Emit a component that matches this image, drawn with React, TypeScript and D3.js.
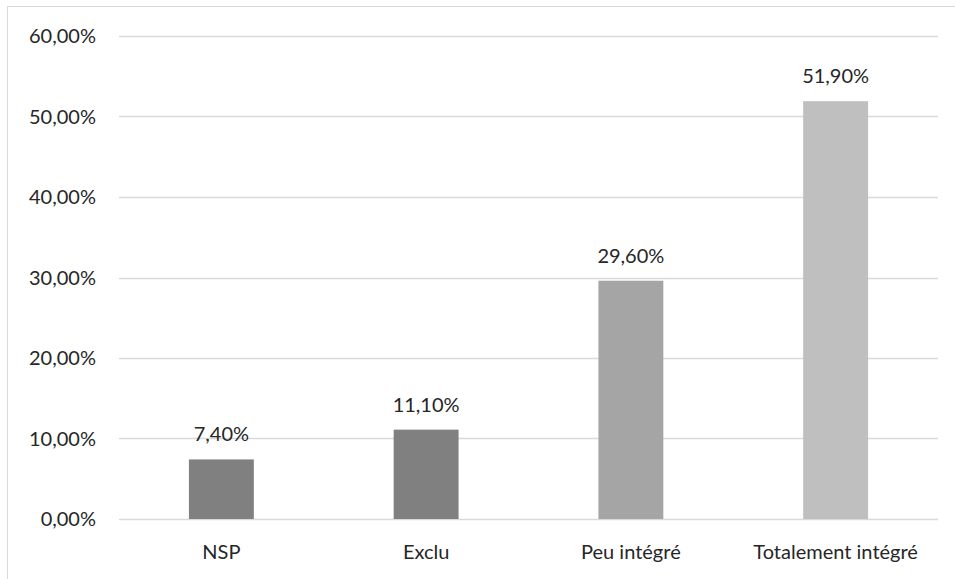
import React from 'react'
import * as d3 from 'd3'

const categories = ['NSP', 'Exclu', 'Peu intégré', 'Totalement intégré']
const values = [0.074, 0.111, 0.296, 0.519]
const barColors = ['#808080', '#808080', '#a5a5a5', '#bfbfbf']
const yTicks = [0, 0.1, 0.2, 0.3, 0.4, 0.5, 0.6]

const W = 955
const H = 579
const margin = { top: 36, right: 17, bottom: 60, left: 119 }

const fmt = (v: number) => (v * 100).toFixed(2).replace('.', ',') + '%'

export default function App() {
  const x = d3
    .scaleBand<string>()
    .domain(categories)
    .range([margin.left, W - margin.right])
    .paddingInner(0.683)
    .paddingOuter(0.3415)
  const y = d3.scaleLinear().domain([0, 0.6]).range([H - margin.bottom, margin.top])

  const font = 'Lato, "Open Sans", sans-serif'
  const fs = 20
  return (
    <svg
      width={W}
      height={H}
      style={{ position: 'absolute', left: 0, top: 0, background: '#fff' }}
      fontFamily={font}
    >
      {/* chart frame */}
      <rect x={7.5} y={6.5} width={W + 10} height={H + 10} fill="none" stroke="#d9d9d9" strokeWidth={1} />

      {yTicks.map((t) => (
        <g key={t}>
          <line
            x1={margin.left}
            x2={W - margin.right}
            y1={Math.round(y(t)) + 0.5}
            y2={Math.round(y(t)) + 0.5}
            stroke="#d9d9d9"
            strokeWidth={1.3}
          />
          <text x={96} y={y(t)} dy="0.35em" textAnchor="end" fontSize={fs} fill="#262626">
            {fmt(t)}
          </text>
        </g>
      ))}

      {categories.map((c, i) => (
        <g key={c}>
          <rect
            x={x(c)}
            y={y(values[i])}
            width={x.bandwidth()}
            height={y(0) - y(values[i])}
            fill={barColors[i]}
          />
          <text
            x={(x(c) ?? 0) + x.bandwidth() / 2}
            y={y(values[i]) - 18}
            textAnchor="middle"
            fontSize={fs}
            fill="#262626"
          >
            {fmt(values[i])}
          </text>
          <text
            x={(x(c) ?? 0) + x.bandwidth() / 2}
            y={552}
            dy="0.35em"
            textAnchor="middle"
            fontSize={fs}
            fill="#262626"
          >
            {c}
          </text>
        </g>
      ))}
    </svg>
  )
}
